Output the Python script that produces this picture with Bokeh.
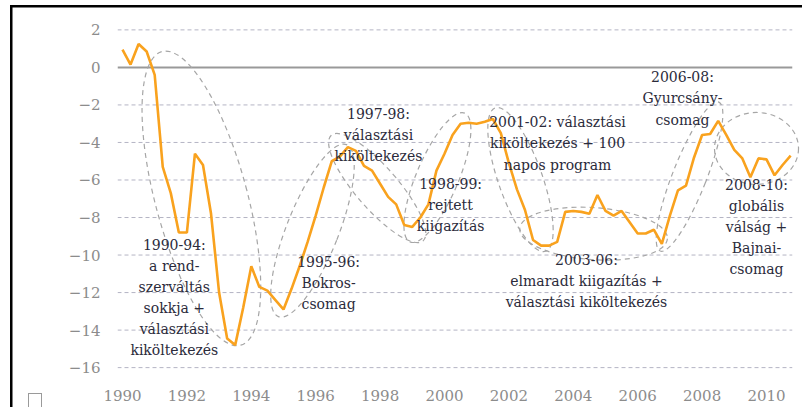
from bokeh.plotting import figure
from bokeh.models import Range1d, FixedTicker
from bokeh.core.properties import value
from bokeh.embed import file_html
from bokeh.resources import INLINE

# ---- data -------------------------------------------------------------
start_year = 1990
balance = [
    0.95, 0.15, 1.25, 0.85,      # 1990
    -0.4, -5.3, -6.7, -8.8,      # 1991
    -8.8, -4.6, -5.2, -7.8,      # 1992
    -12.0, -14.45, -14.8, -12.8, # 1993
    -10.6, -11.7, -11.9, -12.4,  # 1994
    -12.9, -11.8, -10.6, -9.3,   # 1995
    -7.9, -6.4, -5.0, -4.75,     # 1996
    -4.25, -4.45, -5.25, -5.5,   # 1997
    -6.2, -6.9, -7.3, -8.4,      # 1998
    -8.5, -8.0, -7.3, -5.5,      # 1999
    -4.6, -3.6, -3.0, -2.95,     # 2000
    -3.0, -2.9, -2.75, -3.5,     # 2001
    -5.1, -6.5, -7.6, -9.2,      # 2002
    -9.5, -9.5, -9.3, -7.7,      # 2003
    -7.65, -7.7, -7.8, -6.8,     # 2004
    -7.65, -7.9, -7.65, -8.25,   # 2005
    -8.85, -8.85, -8.65, -9.4,   # 2006
    -7.9, -6.55, -6.3, -4.8,     # 2007
    -3.6, -3.55, -2.85, -3.6,    # 2008
    -4.4, -4.85, -5.85, -4.85,   # 2009
    -4.9, -5.75, -5.2, -4.7,     # 2010
]
quarters = [start_year + i / 4 for i in range(len(balance))]

x_ticks = [1990, 1992, 1994, 1996, 1998, 2000, 2002, 2004, 2006, 2008, 2010]
y_ticks = [-16, -14, -12, -10, -8, -6, -4, -2, 0, 2]

ann_text = [
    "1990-94:\na rend-\nszerváltás\nsokkja +\nválasztási\nkiköltekezés",
    "1995-96:\nBokros-\ncsomag",
    "1997-98:\nválasztási\nkiköltekezés",
    "1998-99:\nrejtett\nkiigazítás",
    "2001-02: választási\nkiköltekezés + 100\nnapos program",
    "2003-06:\nelmaradt kiigazítás +\nválasztási kiköltekezés",
    "2006-08:\nGyurcsány-\ncsomag",
    "2008-10:\nglobális\nválság +\nBajnai-\ncsomag",
]
ann_x = [1991.61, 1996.40, 1997.95, 2000.19, 2003.51, 2004.41, 2007.39, 2009.69]
ann_y = [-9.02, -9.92, -2.06, -5.80, -2.50, -9.82, -0.10, -5.82]

# highlight ellipses (centre in data units, size in screen px, angle in degrees)
ell_x = [1992.45, 1995.90, 1997.91, 1999.78, 2002.36, 2004.63, 2007.61, 2009.69]
ell_y = [-6.98, -8.70, -6.43, -5.87, -5.98, -8.86, -5.82, -4.32]
ell_w = [92, 52, 42, 42, 44, 148, 34, 84]
ell_h = [304, 185, 140, 140, 152, 52, 160, 72]
ell_angle = [15, -21.6, 41, -23, 19.4, -4, -21.5, 0]

grid_x0 = 1989.845
grid_x1 = 2010.80

# screenshot frame (black rule on top/left, small box bottom-left) as page background
frame_css = {
    "background-color": "white",
    "background-image": ", ".join(["linear-gradient(#000, #000)"] * 2
                                  + ["linear-gradient(#9a9a9a, #9a9a9a)"] * 3),
    "background-size": "792px 2.5px, 2.5px 402px, 14px 1px, 1px 14px, 1px 14px",
    "background-position": "10px 5px, 10px 5px, 28px 393px, 28px 393px, 41px 393px",
    "background-repeat": "no-repeat",
}

# ---- figure -----------------------------------------------------------
p = figure(
    width=802, height=407,
    x_range=Range1d(1989.845, 2011.056),
    y_range=Range1d(-16.1, 2.5),
    output_backend="svg", toolbar_location=None,
    min_border_left=117, min_border_right=2,
    min_border_top=20, min_border_bottom=38,
    styles=frame_css,
)
p.outline_line_color = None
p.background_fill_color = "white"
p.border_fill_color = None
p.xgrid.grid_line_color = None
p.ygrid.grid_line_color = None

for ax in (p.xaxis[0], p.yaxis[0]):
    ax.axis_line_color = None
    ax.major_tick_line_color = None
    ax.minor_tick_line_color = None
    ax.major_tick_out = 0
    ax.major_tick_in = 0
    ax.major_label_text_font = "DejaVu Serif"
    ax.major_label_text_font_size = "15px"
    ax.major_label_text_color = "#8c8c8c"

p.xaxis.ticker = FixedTicker(ticks=x_ticks)
p.yaxis.ticker = FixedTicker(ticks=y_ticks)
p.xaxis.major_label_standoff = 20
p.yaxis.major_label_standoff = 17

# dashed horizontal gridlines at the y ticks, solid zero line
gl = [t for t in y_ticks if t != 0]
p.segment(x0=[grid_x0] * len(gl), x1=[grid_x1] * len(gl), y0=gl, y1=gl,
          line_color="#b4b4c4", line_dash="4 3", line_width=1)
p.segment(x0=[grid_x0], x1=[grid_x1], y0=[0], y1=[0],
          line_color="#999999", line_width=2)

p.ellipse(x=ell_x, y=ell_y, width=ell_w, height=ell_h, angle=ell_angle,
          angle_units="deg", width_units="screen", height_units="screen",
          fill_color=None, line_color="#a6a6a6", line_dash="5 4", line_width=1.2)

p.line(quarters, balance, line_color="#F9A21E", line_width=2.6)

p.text(x=ann_x, y=ann_y, text=ann_text, text_align="center", text_baseline="top",
       text_font=value("DejaVu Serif"), text_font_size="14px",
       text_color="#2b2b3b", text_line_height=1.32)

open("out.html", "w").write(file_html(p, INLINE))
